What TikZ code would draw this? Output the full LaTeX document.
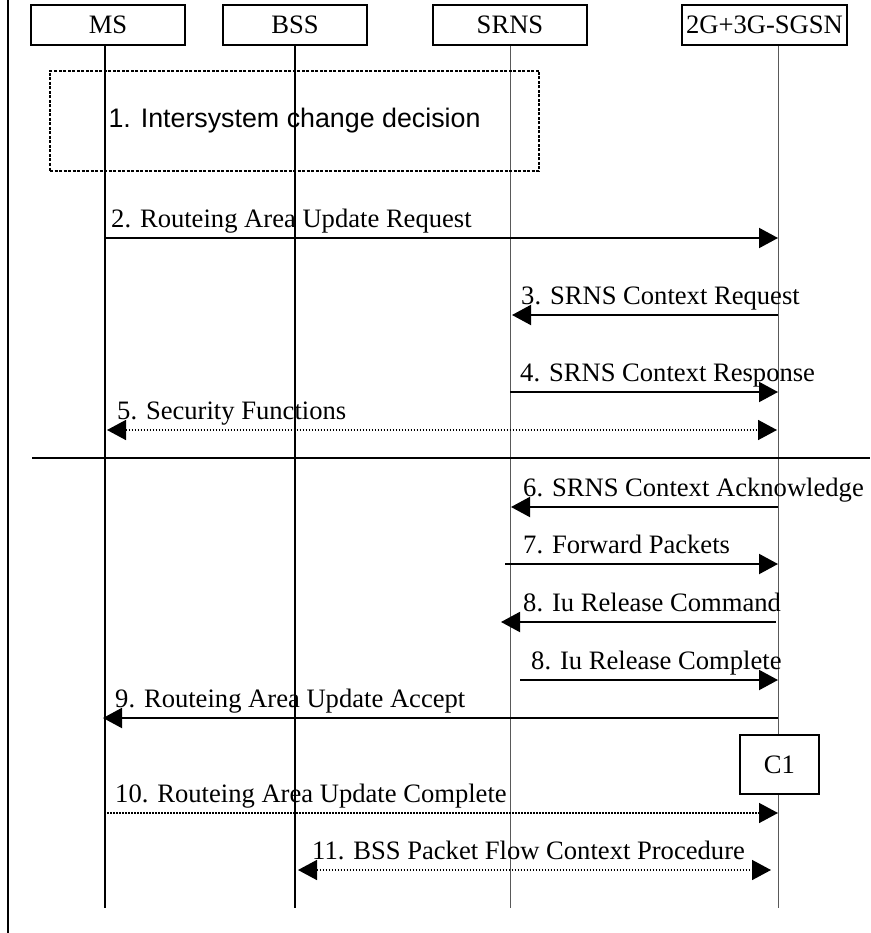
\documentclass[tikz,border=0pt]{standalone}
\usepackage{fontspec}
\setmainfont{Liberation Serif}
\newfontfamily\arialfont{Liberation Sans}
\usepackage{tikz}
\usetikzlibrary{positioning,calc,arrows.meta}
\tikzset{
  seqfont/.style={font=\fontsize{26.6}{30}\selectfont},
  seqbox/.style={draw, line width=2pt, minimum height=40pt, inner sep=0pt, fill=white, seqfont},
  seqlife/.style={line width=2pt},
  seqlifethin/.style={line width=1pt, black!65},
  seqline/.style={line width=2pt},
  seqmsg/.style={line width=2pt, -{Triangle[length=19pt, width=20pt]}},
  seqmsgback/.style={line width=2pt, {Triangle[length=19pt, width=20pt]}-},
  seqdot/.style={line width=1.5pt, dash pattern=on 1.5pt off 1.5pt},
  seqdotmsg/.style={seqdot, -{Triangle[length=19pt, width=20pt]}},
  seqdotboth/.style={seqdot, {Triangle[length=19pt, width=20pt]}-{Triangle[length=19pt, width=20pt]}},
  seqlabel/.style={seqfont, anchor=base west, inner sep=0pt},
  decisionbox/.style={draw, line width=2.5pt, dash pattern=on 3pt off 1.5pt, inner sep=0pt,
    font=\arialfont\fontsize{26.8}{30}\selectfont},
}

\begin{document}
\begin{tikzpicture}[x=1pt, y=-1pt]
		\useasboundingbox (0,0) rectangle (870,933);

		% Frame line on the left
		\coordinate (frame-top) at (8,0);
		\coordinate (frame-bot) at (8,933);
		\draw[line width=2.5pt] (frame-top) -- (frame-bot);

		% Entities
		\node[seqbox, minimum width=154pt] (ms) at (108,25) {MS};
		\node[seqbox, minimum width=144pt] (bss) at (295,25) {BSS};
		\node[seqbox, minimum width=154pt] (srns) at (510,25) {SRNS};
		\node[seqbox, minimum width=165pt] (sgsn) at (764.5,25) {2G+3G-SGSN};

		% Lifelines
		\coordinate (ms-l) at (105,908);
		\coordinate (bss-l) at (295,908);
		\coordinate (srns-l) at (510,908);
		\coordinate (sgsn-l) at (778,908);
		\draw[seqlife] (ms-l |- ms.south) -- (ms-l);
		\draw[seqlife] (bss-l |- bss.south) -- (bss-l);
		\draw[seqlifethin] (srns-l |- srns.south) -- (srns-l);
		\draw[seqlifethin] (sgsn-l |- sgsn.south) -- (sgsn-l);

		% 1. decision box
		\node[decisionbox, minimum width=489pt, minimum height=100pt] (decide) at (294.5,121)
			{1. Intersystem change decision};

		% Message rows
		\coordinate (r2) at (0,238);
		\coordinate (r3) at (0,315);
		\coordinate (r4) at (0,392);
		\coordinate (r5) at (0,430);
		\coordinate (rsep) at (0,458);
		\coordinate (r6) at (0,507);
		\coordinate (r7) at (0,564);
		\coordinate (r8) at (0,622);
		\coordinate (r8b) at (0,680);
		\coordinate (r9) at (0,718);
		\coordinate (r10) at (0,813);
		\coordinate (r11) at (0,870);

		% Messages before the separator
		\draw[seqmsg] (ms-l |- r2) -- (sgsn-l |- r2);
		\node[seqlabel] (m2) at ($(ms-l |- r2)+(6,-11)$) {2. Routeing Area Update Request};
		\draw[seqmsg] (sgsn-l |- r3) -- ([xshift=2pt]srns-l |- r3);
		\node[seqlabel] (m3) at ($(srns-l |- r3)+(11,-11)$) {3. SRNS Context Request};
		\draw[seqmsg] (srns-l |- r4) -- (sgsn-l |- r4);
		\node[seqlabel] (m4) at ($(srns-l |- r4)+(10,-11)$) {4. SRNS Context Response};
		\draw[seqdotboth] ([xshift=2pt]ms-l |- r5) -- ([xshift=-1pt]sgsn-l |- r5);
		\node[seqlabel] (m5) at ($(ms-l |- r5)+(12,-11)$) {5. Security Functions};

		% Separator
		\coordinate (sep-l) at (32,458);
		\coordinate (sep-r) at (870,458);
		\draw[seqline] (sep-l) -- (sep-r);

		% Messages after the separator
		\draw[seqmsg] (sgsn-l |- r6) -- ([xshift=1pt]srns-l |- r6);
		\node[seqlabel] (m6) at ($(srns-l |- r6)+(13,-11)$) {6. SRNS Context Acknowledge};
		\draw[seqmsg] ([xshift=-5pt]srns-l |- r7) -- (sgsn-l |- r7);
		\node[seqlabel] (m7) at ($(srns-l |- r7)+(13,-11)$) {7. Forward Packets};
		\draw[seqmsg] ([xshift=-2pt]sgsn-l |- r8) -- ([xshift=-9pt]srns-l |- r8);
		\node[seqlabel] (m8) at ($(srns-l |- r8)+(13,-11)$) {8. Iu Release Command};
		\draw[seqmsg] ([xshift=10pt]srns-l |- r8b) -- (sgsn-l |- r8b);
		\node[seqlabel] (m8b) at ($(srns-l |- r8b)+(21,-11)$) {8. Iu Release Complete};
		\draw[seqmsg] (sgsn-l |- r9) -- ([xshift=-2pt]ms-l |- r9);
		\node[seqlabel] (m9) at ($(ms-l |- r9)+(10,-11)$) {9. Routeing Area Update Accept};

		% C1 on the SGSN lifeline
		\node[seqbox, minimum width=79pt, minimum height=59pt] (c1) at ($(sgsn-l |- 0,764.5)+(1.5,0)$) {C1};

		\draw[seqdotmsg] ([xshift=2pt]ms-l |- r10) -- (sgsn-l |- r10);
		\node[seqlabel] (m10) at ($(ms-l |- r10)+(10,-11)$) {10. Routeing Area Update Complete};
		\draw[seqdotboth] ([xshift=3pt]bss-l |- r11) -- ([xshift=-7pt]sgsn-l |- r11);
		\node[seqlabel] (m11) at ($(bss-l |- r11)+(17,-11)$) {11. BSS Packet Flow Context Procedure};
	\end{tikzpicture}
\end{document}
